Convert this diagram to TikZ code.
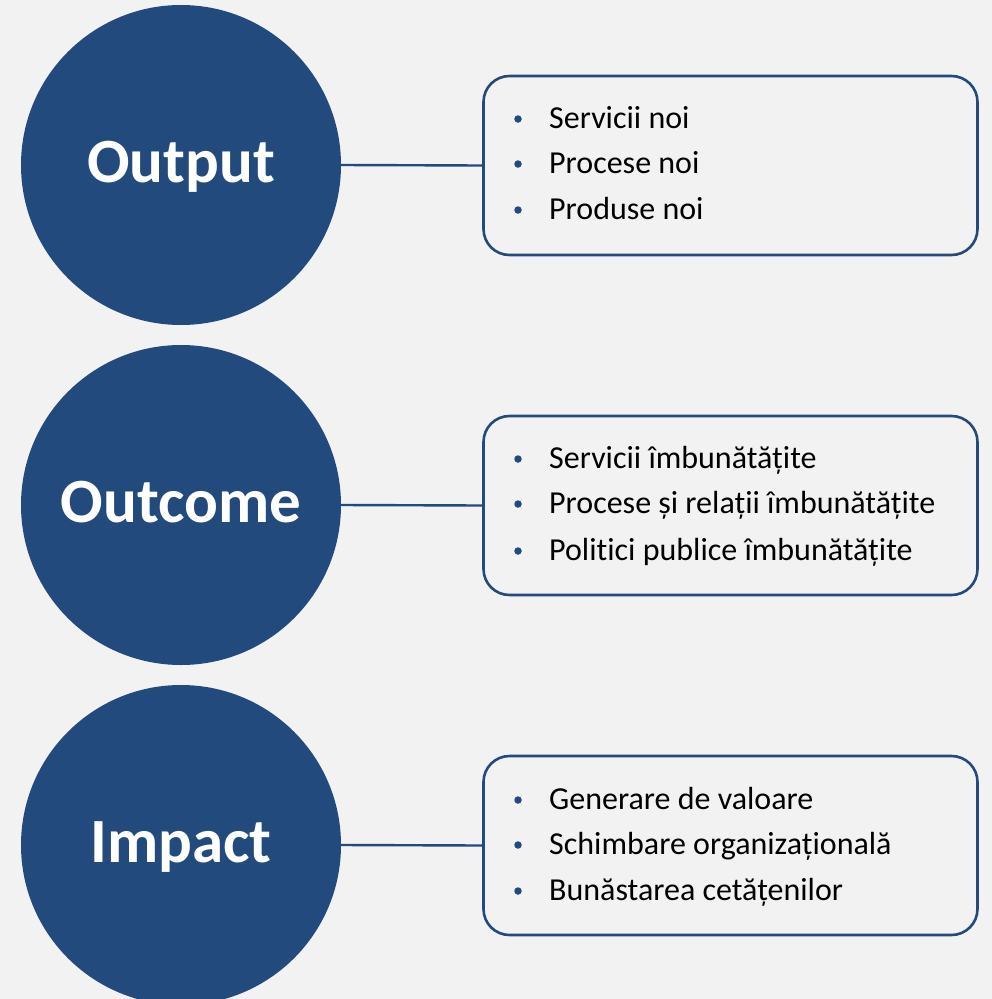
\documentclass[tikz,border=0pt]{standalone}
\usepackage{fontspec}
\setmainfont{Carlito}[Ligatures=NoCommon]
\begin{document}
\definecolor{navy}{HTML}{234A7C}
\definecolor{paper}{HTML}{F2F2F2}
\tikzset{
  stage/.style={circle, fill=navy, draw=none, minimum size=320pt, inner sep=0pt},
  stagetext/.style={anchor=base, inner sep=0pt, text=white,
    font=\bfseries\fontsize{63}{70}\selectfont},
  listbox/.style={draw=navy, line width=2.6pt, rounded corners=26pt, fill=paper,
    minimum width=494pt, minimum height=179pt, inner sep=0pt},
  link/.style={draw=navy, line width=2.4pt},
  item/.style={anchor=base west, font=\fontsize{32}{36}\selectfont, text=black, inner sep=0pt},
  dot/.style={circle, fill=navy, minimum size=7.5pt, inner sep=0pt}
}
\begin{tikzpicture}[x=1pt,y=-1pt]
  \fill[paper] (0,0) rectangle (992,999);
  \useasboundingbox (0,0) rectangle (992,999);

  % the three stages
  \foreach \n/\y/\t in {1/165/Output, 2/505/Outcome, 3/845/Impact} {
    \node[stage] (c\n) at (181,\y) {};
    \node[stagetext] (l\n) at (181,\y+17) {\t};
  }

  \node[listbox] (b1) at (730.5,165.5) {};
  \node[listbox] (b2) at (730.5,505.5) {};
  \node[listbox] (b3) at (730.5,845.5) {};

  \draw[link] (c1.east) -- (b1.west);
  \draw[link] (c2.east) -- (b2.west);
  \draw[link] (c3.east) -- (b3.west);

  % bullet lists (baselines)
  \foreach \y/\t [count=\i] in {128/Servicii noi, 173/Procese noi, 219/Produse noi,
      468/Servicii îmbunătățite, 513/Procese și relații îmbunătățite, 560/Politici publice îmbunătățite,
      809/Generare de valoare, 854/Schimbare organizațională, 900/Bunăstarea cetățenilor} {
    \node[dot] (d\i) at (518,\y-9) {};
    \node[item] (t\i) at (549,\y) {\t};
  }
\end{tikzpicture}
\end{document}
